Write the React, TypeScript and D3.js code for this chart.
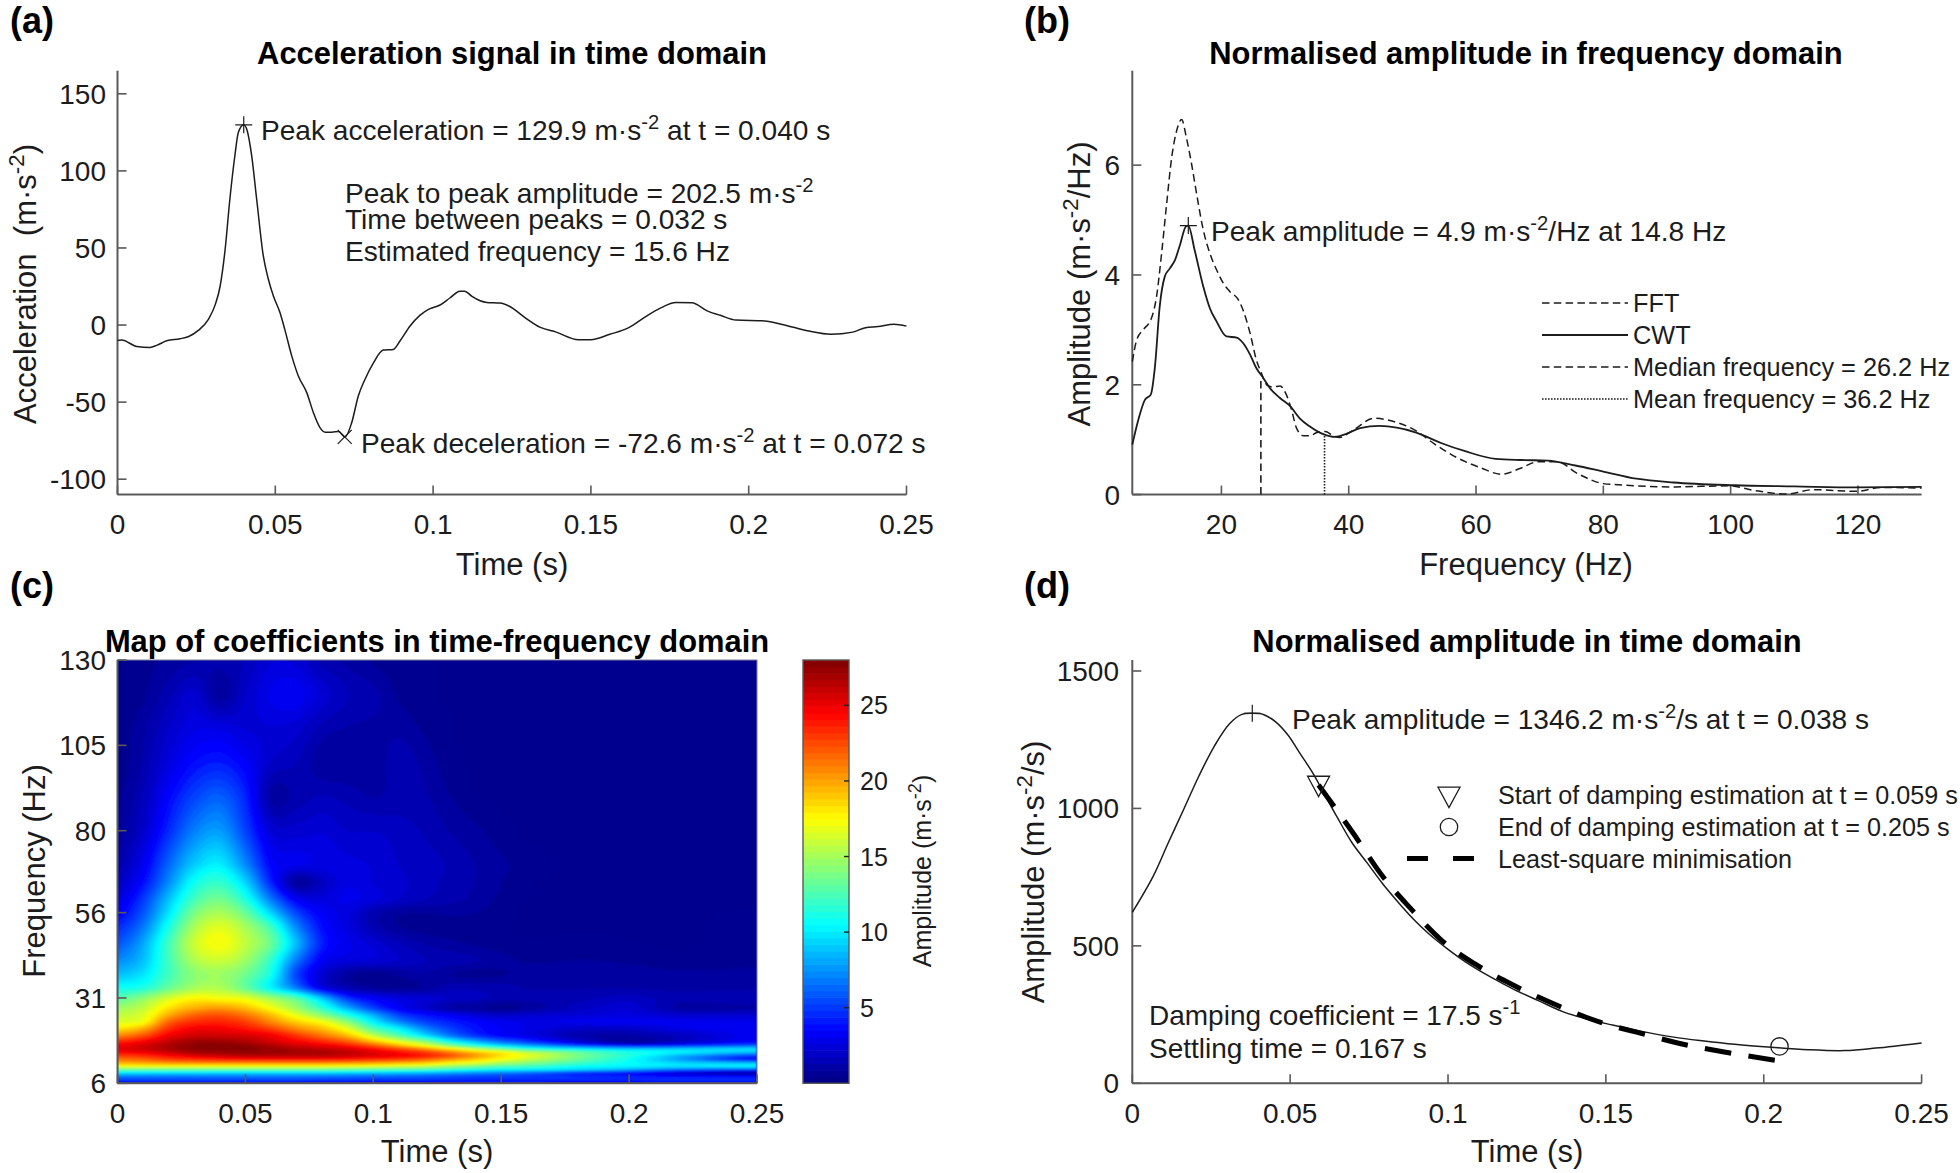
import React from "react";
import * as d3 from "d3";

// ---------- Panel (a) ----------
const accT = [0,.0013,.0061,.0103,.0124,.0156,.0198,.0224,.0256,.0288,.031,.0325,.0341,.0356,.0372,.0383,.04,.0411,.0425,.0441,.0462,.0478,.0494,.0515,.053,.0552,.0573,.06,.0621,.0642,.0658,.0679,.07,.0721,.0742,.0763,.0784,.0811,.0842,.0874,.0895,.0927,.0958,.099,.1022,.1054,.1085,.11,.1122,.1149,.117,.1212,.1243,.129,.134,.139,.146,.15,.156,.162,.167,.172,.177,.182,.187,.191,.196,.205,.211,.219,.226,.233,.237,.241,.246,.25];
const accV = [-10,-9.7,-13.9,-14.5,-13.2,-10.2,-8.9,-7.6,-3.5,3.7,13.4,25,49,81.6,110,125,129.9,126,110,81.6,44.8,29.7,18.8,8,-2.8,-20,-33,-44,-57,-66.7,-69.5,-69.5,-69,-72.6,-63.4,-46,-35.3,-24.5,-16.2,-15.8,-10.4,-.6,6.3,10.6,13,17.7,22,22,18.8,15.8,14.7,14.3,12,5,-1.5,-4.6,-9.5,-9.5,-6,-1.7,5,11,14.6,14.4,9,6.3,3.2,2.7,.2,-3.9,-6,-4.6,-1.7,-1,.5,-.7];
const timeTicks = [0,.05,.1,.15,.2,.25];
const timeTickLabels = ["0","0.05","0.1","0.15","0.2","0.25"];
const accTicks = [-100,-50,0,50,100,150];

// ---------- Panel (b) ----------
const cwtF = [6,6.94,8,8.9,9.56,10.3,11.1,11.9,12.7,13.5,14.4,14.8,15.8,17.15,18.2,19.25,20.8,22.4,23.4,24.5,25.5,26.6,27.6,29.2,30.8,32.3,33.9,36,37.8,39.7,41.8,44.8,50.6,54.5,58.3,63.1,67,71.3,75.6,80,85.2,91,100.6,110,119.8,130];
const cwtV = [.91,1.36,1.73,1.82,2.33,3.42,3.97,4.12,4.27,4.55,4.88,4.9,4.45,3.79,3.39,3.15,2.88,2.86,2.76,2.55,2.3,2.12,1.94,1.76,1.61,1.39,1.24,1.1,1.05,1.11,1.21,1.25,1.13,.94,.79,.65,.63,.62,.53,.42,.29,.22,.17,.15,.13,.14];
const fftF = [6,6.7,7.7,9,9.8,10.6,11.4,12.2,13,13.75,14.5,15.3,16.1,17.15,18.2,19.25,20.3,21.3,22.65,23.4,24.5,25.5,26.3,27.1,28.1,29.2,30.2,31,31.8,32.9,33.9,35,36.3,37.6,38.6,40,41.2,43.9,46.8,50.6,53.5,56.9,60.7,64,67,69.8,72.7,76,80,82.3,91,99.7,103.5,108.8,113,119.8,123.7,130];
const fftV = [2.42,2.82,3,3.21,3.6,4.39,5.3,6.15,6.64,6.83,6.5,6.03,5.48,4.82,4.39,4.09,3.85,3.7,3.55,3.36,2.94,2.45,2.21,2,1.96,1.98,1.82,1.55,1.21,1.07,1.07,1.13,1.15,1.07,1.04,1.12,1.21,1.39,1.34,1.16,.92,.68,.49,.37,.48,.6,.6,.38,.2,.18,.14,.16,.08,.01,.09,.06,.13,.12];
const freqTicks = [20,40,60,80,100,120];
const ampTicks = [0,2,4,6];
const medianF = 26.2, medianTop = 2.12, meanF = 36.2, meanTop = 1.1;

// ---------- Panel (c) ----------
const mapT = [0,.01,.02,.03,.04,.05,.06,.07,.08,.09,.10,.11,.12,.13,.14,.15,.16,.18,.20,.22,.25];
const mapF = [6,7,8,9,10,11,12,13,14,15,16,17,18,20,22,24,26,28,31,34,38,42,47,52,56,60,65,70,80,90,100,110,120,130];
const mapValues = [
/*6*/  [3,3,3,3,3,3,3,3,3,3,3,3,3,3,3,3,3,3,3,3,3],
/*7*/  [5.5,5.5,5.5,5.5,5.5,5.5,5.5,5.5,5.3,5.2,5,5,5,4.9,4.8,4.8,4.8,4.8,4.8,4.9,5],
/*8*/  [7,7,7,7,7,7,7,7,6.8,6.7,6.5,6.4,6.2,5.8,5.5,5.4,5.2,4.8,4.5,4,3.8],
/*9*/  [10,9.8,9.7,9.6,9.5,9.5,9.5,9.5,9.5,9.3,9,8.8,8.5,8,7.5,7,6.5,5,4,2.5,1.2],
/*10*/ [13.5,13.5,13.5,13.5,13.5,13.5,13.5,13.5,13.5,13.3,13,12.8,12.5,11.8,11,10.5,10.3,9.5,8.3,6.5,5.5],
/*11*/ [17.5,17.5,17.5,17.5,17.5,17.5,17.5,17.5,17.5,17.3,17,16.5,16,15,14,13,12.5,11,10.5,10,10.5],
/*12*/ [20,20.3,20.8,21,21,21,21,21,21,20.8,20.5,20,19.3,18,17,15.5,14.5,12.5,10.8,9.5,8.5],
/*13*/ [21.5,22,23,23.5,24,24.2,24.3,24.3,24.3,24,23.5,23,22,20.5,19,17.5,16,13.5,11,8,4],
/*14*/ [23,23.5,24.5,25.5,26,26.5,26.5,26.5,26.5,26,25.5,25,24,22.5,20.5,18.5,17,14,11.5,8.5,5],
/*15*/ [24.5,25,26,27,27.3,27.6,27.5,27.2,27,26.5,25.5,24.5,23.3,21.5,19.5,18,16,13.5,11.5,10.3,8.5],
/*16*/ [25.5,26,27,27.8,28,28,27.5,27,26.5,25.8,24.5,23,21,18.5,16,14,12,10.5,9.5,9.5,10],
/*17*/ [25,25.8,27,27.8,28,27.8,27,26,25.3,24.3,22.5,20,17.5,14.5,12,10,8.5,6,4.5,5,6.5],
/*18*/ [24,25,26.5,27.5,27.5,27,26,25,24,22.5,20,17.5,15,11.5,9,7,5.5,2.8,1.2,2.2,4],
/*20*/ [21,22.5,25,26,26,25.8,25,23.3,21.5,19.5,16,13,10,7,5,3.8,3,1.5,1.3,2,3.4],
/*22*/ [18.5,20,23.5,25,25,24.3,23,21,19.5,17,13,10.5,7.5,5.5,4.2,3.5,3,2.2,2.2,3,3.5],
/*24*/ [16.8,17.5,22,23.5,23.8,23,21,19,17.5,14.5,10.5,7.5,5.5,4.5,3.8,3.3,3,3.2,3.3,3.2,3.2],
/*26*/ [16,16.8,20,22,22.5,21.5,19.5,17,14.5,11.5,8.5,5.5,4.2,3.5,2.6,2.2,2.4,2.6,2.8,2.4,2.4],
/*28*/ [15,16,18.5,20,20.5,19.5,17.5,15,12,8.5,5.5,3.5,2.4,1.3,1,.7,1,2,2.5,1.2,1.3],
/*31*/ [13,14.5,16.5,17.8,17.5,17,15,13,9,5,3.5,2.8,2.5,2.2,2,1.5,1.5,1.6,2,1.5,1.8],
/*34*/ [11,11.5,13.5,15.2,15.5,13.5,10.5,7,3,1.6,1,.8,1,1.6,1.6,1.5,1.3,1.3,1.3,1.2,1.2],
/*38*/ [9,10,12.5,14.5,15,13.8,11.2,5.5,2.5,1.1,.7,1,1.3,.9,.7,.8,1.2,1.2,1.1,1,1],
/*42*/ [7.5,9,12.5,15.5,16.3,15,12,7,3.5,2.8,2.6,2.2,1.8,1.6,1.4,1.1,.8,.9,.8,.6,.8],
/*47*/ [6,8.3,12.5,16.3,17.6,16,13.6,8.8,4.5,3.2,2.5,1.8,1.3,1,.8,.6,.5,.6,.5,.4,.7],
/*52*/ [4.8,7,11.3,15.3,16.8,15.2,12.3,7.3,4,2.8,1.6,.9,.6,.7,.6,.5,.4,.4,.4,.4,.6],
/*56*/ [3.6,6,10,14,15.3,13.5,9.5,5.5,3.5,2.8,1.6,1,.9,1,.9,.6,.4,.4,.4,.4,.5],
/*60*/ [2.8,5.2,9,12.5,13.8,11.5,7,3.4,2.8,3.2,2.8,2.2,1.8,1.5,1.2,.8,.5,.4,.4,.4,.4],
/*65*/ [2,4,7.5,11,12,9.5,4.6,1,2,3,2.6,2.3,2,1.6,1.3,.9,.5,.4,.4,.4,.4],
/*70*/ [1.5,3.3,6.5,9.3,10.3,7.5,3.8,3.2,3,2.8,2.6,2.2,2,1.7,1.3,1,.6,.4,.4,.4,.4],
/*80*/ [1,2.3,4.8,7.2,8,5.5,2.6,2.4,2.6,2.2,2.2,2,1.7,1.3,1,.6,.4,.4,.4,.4,.4],
/*90*/ [.8,1.8,3.8,5.5,6.3,4.6,1.2,1.5,1.8,1.6,1.3,1.5,1.4,.9,.5,.4,.4,.4,.4,.4,.4],
/*100*/[.6,1.4,2.8,4,4.4,3.6,2.2,1.8,1,.9,1,1.6,1.2,.6,.4,.4,.4,.4,.4,.4,.4],
/*110*/[.6,1.2,2.2,3,3,2.6,2.6,2.4,1.6,1.3,1.2,1.2,.8,.5,.4,.4,.4,.4,.4,.4,.4],
/*120*/[.5,.8,1.6,2.4,1,2.2,3.2,3.4,2.5,1.8,1.5,.8,.6,.4,.4,.4,.4,.4,.4,.4,.4],
/*130*/[.5,.7,1,1.3,1.5,1.8,2.6,2.5,1.6,1.2,.8,.6,.5,.4,.4,.4,.4,.4,.4,.4,.4],
];
const mapFreqTicks = [6,31,56,80,105,130];
const barTicks = [5,10,15,20,25];

// ---------- Panel (d) ----------
const envT = [0,.0066,.0114,.0163,.0211,.026,.0308,.0347,.038,.0415,.0454,.0493,.0531,.057,.0609,.0648,.0696,.0745,.0793,.0842,.089,.0939,.0997,.1055,.1133,.121,.1288,.1365,.1443,.1521,.1618,.1715,.1811,.1908,.2025,.2141,.2258,.2355,.25];
const envV = [622,753,875,997,1118,1227,1308,1342,1346,1342,1315,1267,1200,1132,1051,970,875,800,726,659,598,544,490,442,388,341,300,260,233,212,188,168,154,142,131,122,119,128,147];
const fitT = [.059,.0696,.0793,.088,.0977,.1084,.12,.1327,.149,.16,.1734,.1889,.2035];
const fitV = [1085,916,753,638,523,435,361,293,219,185,145,111,84];
const envTicks = [0,500,1000,1500];

const FONT = "'Liberation Sans', Arial, sans-serif";
const INK = "#1c1c1c";
const AXIS = "#5a5a5a";

type Seg = string | { sup: string };
function Label({ x, y, segs, size = 28, anchor = "start", weight = 400, rotate = false, fill = INK, supSize = 0.72, supRaise = 0.4 }: any) {
  const raise = size * supRaise;
  const out: any[] = [];
  let pending = 0;
  segs.forEach((s: Seg, i: number) => {
    if (typeof s === "string") {
      out.push(<tspan key={i} dy={pending}>{s}</tspan>);
      pending = 0;
    } else {
      out.push(<tspan key={i} dy={-raise} fontSize={size * supSize}>{s.sup}</tspan>);
      pending = raise;
    }
  });
  return (
    <text x={rotate ? 0 : x} y={rotate ? 0 : y} transform={rotate ? `translate(${x},${y}) rotate(-90)` : undefined}
      fontFamily={FONT} fontSize={size} fontWeight={weight} textAnchor={anchor} fill={fill} style={{ whiteSpace: "pre" }}>
      {out}
    </text>
  );
}

function jet(v: number) {
  const x = v / 28;
  const c = (k: number) => Math.round(255 * Math.max(0, Math.min(1, 1.5 - Math.abs(4 * x - k))));
  return `rgb(${c(3)},${c(2)},${c(1)})`;
}

function Axes({ left, right, top, bottom, xs, ys, xLabels, xLabelY, yLabelX, tick = 9 }: any) {
  return (
    <g>
      <line x1={left} x2={left} y1={top} y2={bottom} stroke={AXIS} strokeWidth={2} />
      <line x1={left} x2={right} y1={bottom} y2={bottom} stroke={AXIS} strokeWidth={2} />
      {xs.map((x: number, i: number) => (
        <g key={i}>
          <line x1={x} x2={x} y1={bottom} y2={bottom - tick} stroke={AXIS} strokeWidth={1.6} />
          <text x={x} y={xLabelY} textAnchor="middle" fontFamily={FONT} fontSize={28} fill={INK}>{xLabels[i]}</text>
        </g>
      ))}
      {ys.map((t: any, i: number) => (
        <g key={i}>
          <line x1={left} x2={left + tick} y1={t.y} y2={t.y} stroke={AXIS} strokeWidth={1.6} />
          <text x={yLabelX} y={t.y + 10} textAnchor="end" fontFamily={FONT} fontSize={28} fill={INK}>{t.label}</text>
        </g>
      ))}
    </g>
  );
}

function Plus({ x, y, r = 8.5 }: any) {
  return <path d={`M${x - r},${y}H${x + r}M${x},${y - r}V${y + r}`} stroke={INK} strokeWidth={1.2} fill="none" />;
}
function Cross({ x, y, r = 7 }: any) {
  return <path d={`M${x - r},${y - r}L${x + r},${y + r}M${x - r},${y + r}L${x + r},${y - r}`} stroke={INK} strokeWidth={1.2} fill="none" />;
}
function Tri({ x, y, r = 11 }: any) {
  return <path d={`M${x - r},${y - r * 0.8}H${x + r}L${x},${y + r * 1.05}Z`} stroke={INK} strokeWidth={1.3} fill="none" />;
}

// Smooth resampling of the read grid so the filled bands follow round contours.
function resample(rows: number[][], k: number) {
  const nr = rows.length, nc = rows[0].length;
  const at = (r: number, c: number) => rows[Math.max(0, Math.min(nr - 1, r))][Math.max(0, Math.min(nc - 1, c))];
  const cr = (a: number, b: number, c: number, d: number, t: number) =>
    0.5 * (2 * b + (c - a) * t + (2 * a - 5 * b + 4 * c - d) * t * t + (3 * b - a - 3 * c + d) * t * t * t);
  const w = (nc - 1) * k + 1, h = (nr - 1) * k + 1;
  const out = new Array(w * h);
  for (let j = 0; j < h; j++) {
    const rf = j / k, r0 = Math.floor(rf), tr = rf - r0;
    for (let i = 0; i < w; i++) {
      const cf = i / k, c0 = Math.floor(cf), tc = cf - c0;
      const col = [-1, 0, 1, 2].map((dr) =>
        cr(at(r0 + dr, c0 - 1), at(r0 + dr, c0), at(r0 + dr, c0 + 1), at(r0 + dr, c0 + 2), tc));
      out[j * w + i] = cr(col[0], col[1], col[2], col[3], tr);
    }
  }
  return { w, h, out };
}

export default function App() {
  // panel geometry
  const L1 = 117.5, R1 = 906.5, L2 = 1132.3, R2 = 1921.6;
  const T1 = 70.7, B1 = 494.6, T2 = 660, B2 = 1083.3;
  const RC = 757, BL = 803, BR = 849;

  const xA = d3.scaleLinear().domain([0, .25]).range([L1, R1]);
  const yA = d3.scaleLinear().domain([-110, 165]).range([B1, T1]);
  const xB = d3.scaleLinear().domain([6, 130]).range([L2, R2]);
  const yB = d3.scaleLinear().domain([0, 7.72]).range([B1, T1]);
  const xC = d3.scaleLinear().domain([0, .25]).range([L1, RC]);
  const yC = d3.scaleLinear().domain([6, 130]).range([B2, T2]);
  const yBar = d3.scaleLinear().domain([0, 28]).range([B2, T2]);
  const xD = d3.scaleLinear().domain([0, .25]).range([L2, R2]);
  const yD = d3.scaleLinear().domain([0, 1540]).range([B2, T2]);

  const curve = d3.curveMonotoneX;
  const lineA = d3.line<number>().x((_, i) => xA(accT[i])).y((v) => yA(v)).curve(curve);
  const lineCwt = d3.line<number>().x((_, i) => xB(cwtF[i])).y((v) => yB(v)).curve(curve);
  const lineFft = d3.line<number>().x((_, i) => xB(fftF[i])).y((v) => yB(v)).curve(curve);
  const lineEnv = d3.line<number>().x((_, i) => xD(envT[i])).y((v) => yD(v)).curve(d3.curveCatmullRom);
  const lineFit = d3.line<number>().x((_, i) => xD(fitT[i])).y((v) => yD(v)).curve(curve);

  // heat map
  const K = 4;
  const grid = resample(mapValues, K);
  const thresholds = d3.range(0.45, 28, 0.44);
  const contours = d3.contours().size([grid.w, grid.h]).smooth(true).thresholds(thresholds)(grid.out);
  const idxT = d3.scaleLinear().domain(mapT.map((_, i) => i * K + 0.5)).range(mapT).clamp(true);
  const idxF = d3.scaleLinear().domain(mapF.map((_, i) => i * K + 0.5)).range(mapF).clamp(true);
  const path = d3.geoPath(d3.geoTransform({
    point(x: number, y: number) {
      (this as any).stream.point(xC(idxT(x)), yC(idxF(y)));
    },
  }));
  const barLevels = d3.range(0, 28, 0.4375);

  const W = 1960, H = 1173;
  return (
    <svg width={W} height={H} viewBox={`0 0 ${W} ${H}`}
      style={{ position: "absolute", left: 0, top: 0, background: "#fff", display: "block" }}>
      <defs>
        <clipPath id="mapClip"><rect x={L1} y={T2} width={RC - L1} height={B2 - T2} /></clipPath>
        <filter id="soft" filterUnits="userSpaceOnUse" x={L1 - 10} y={T2 - 10} width={RC - L1 + 20} height={B2 - T2 + 20}>
          <feGaussianBlur stdDeviation={1.1} />
        </filter>
      </defs>

      {/* panel letters */}
      <Label x={10} y={32.6} segs={["(a)"]} size={36} weight={700} fill="#000" />
      <Label x={1024} y={32.6} segs={["(b)"]} size={36} weight={700} fill="#000" />
      <Label x={10} y={598} segs={["(c)"]} size={36} weight={700} fill="#000" />
      <Label x={1024} y={598} segs={["(d)"]} size={36} weight={700} fill="#000" />

      {/* (a) */}
      <Label x={512} y={64} segs={["Acceleration signal in time domain"]} size={30.9} weight={700} anchor="middle" fill="#000" />
      <Axes left={L1} right={R1} top={T1} bottom={B1} xs={timeTicks.map((t) => xA(t))} xLabels={timeTickLabels} xLabelY={534}
        ys={accTicks.map((v) => ({ y: yA(v), label: String(v) }))} yLabelX={106} />
      <path d={lineA(accV) as string} fill="none" stroke={INK} strokeWidth={1.5} />
      <Plus x={xA(.04)} y={yA(129.9)} />
      <Cross x={xA(.072)} y={yA(-72.6)} />
      <Label x={261} y={140} size={28.1} segs={["Peak acceleration = 129.9 m·s", { sup: "-2" }, " at t = 0.040 s"]} />
      <Label x={345} y={203} size={28.1} segs={["Peak to peak amplitude = 202.5 m·s", { sup: "-2" }]} />
      <Label x={345} y={229} size={28.1} segs={["Time between peaks = 0.032 s"]} />
      <Label x={345} y={261} size={28.1} segs={["Estimated frequency = 15.6 Hz"]} />
      <Label x={361} y={453} size={28.1} segs={["Peak deceleration = -72.6 m·s", { sup: "-2" }, " at t = 0.072 s"]} />
      <Label x={512} y={575} segs={["Time (s)"]} size={31} anchor="middle" />
      <Label x={36} y={284} segs={["Acceleration  (m·s", { sup: "-2" }, ")"]} size={31} anchor="middle" rotate />

      {/* (b) */}
      <Label x={1526} y={64} segs={["Normalised amplitude in frequency domain"]} size={30.9} weight={700} anchor="middle" fill="#000" />
      <Axes left={L2} right={R2} top={T1} bottom={B1} xs={freqTicks.map((t) => xB(t))} xLabels={freqTicks.map(String)} xLabelY={534}
        ys={ampTicks.map((v) => ({ y: yB(v), label: String(v) }))} yLabelX={1120} />
      <path d={lineFft(fftV) as string} fill="none" stroke={INK} strokeWidth={1.5} strokeDasharray="7.5,4.3" />
      <path d={lineCwt(cwtV) as string} fill="none" stroke={INK} strokeWidth={1.8} />
      <line x1={xB(medianF)} x2={xB(medianF)} y1={yB(0)} y2={yB(medianTop)} stroke={INK} strokeWidth={1.6} strokeDasharray="7.5,4.3" />
      <line x1={xB(meanF)} x2={xB(meanF)} y1={yB(0)} y2={yB(meanTop)} stroke={INK} strokeWidth={1.6} strokeDasharray="1.6,1.4" />
      <Plus x={xB(14.8)} y={yB(4.9)} />
      <Label x={1211} y={241} size={28.1} segs={["Peak amplitude = 4.9 m·s", { sup: "-2" }, "/Hz at 14.8 Hz"]} />
      <g>
        <line x1={1542} x2={1628} y1={303} y2={303} stroke={INK} strokeWidth={1.5} strokeDasharray="7.5,4.3" />
        <line x1={1542} x2={1628} y1={335} y2={335} stroke={INK} strokeWidth={1.8} />
        <line x1={1542} x2={1628} y1={367} y2={367} stroke={INK} strokeWidth={1.5} strokeDasharray="7.5,4.3" />
        <line x1={1542} x2={1628} y1={399} y2={399} stroke={INK} strokeWidth={1.6} strokeDasharray="1.6,1.4" />
      </g>
      <Label x={1633} y={312} segs={["FFT"]} size={25.3} />
      <Label x={1633} y={344} segs={["CWT"]} size={25.3} />
      <Label x={1633} y={376} segs={["Median frequency = 26.2 Hz"]} size={25.3} />
      <Label x={1633} y={408} segs={["Mean frequency = 36.2 Hz"]} size={25.3} />
      <Label x={1526} y={575} segs={["Frequency (Hz)"]} size={31} anchor="middle" />
      <Label x={1090} y={284} segs={["Amplitude (m·s", { sup: "-2" }, "/Hz)"]} size={31} anchor="middle" rotate />

      {/* (c) */}
      <Label x={437} y={652} segs={["Map of coefficients in time-frequency domain"]} size={30.9} weight={700} anchor="middle" fill="#000" />
      <rect x={L1} y={T2} width={RC - L1} height={B2 - T2} fill={jet(0.4)} />
      <g clipPath="url(#mapClip)">
        <g filter="url(#soft)">
          {contours.map((c: any, i: number) => (
            <path key={i} d={path(c) as string} fill={jet(c.value)} />
          ))}
        </g>
      </g>
      <rect x={L1} y={T2} width={RC - L1} height={B2 - T2} fill="none" stroke="#7c7c9c" strokeWidth={1} />
      <Axes left={L1} right={RC} top={T2} bottom={B2} xs={timeTicks.map((t) => xC(t))} xLabels={timeTickLabels} xLabelY={1123}
        ys={mapFreqTicks.map((v) => ({ y: yC(v), label: String(v) }))} yLabelX={106} />
      <Label x={437} y={1162} segs={["Time (s)"]} size={31} anchor="middle" />
      <Label x={45} y={871} segs={["Frequency (Hz)"]} size={31} anchor="middle" rotate />

      {/* colour bar */}
      {barLevels.map((v, i) => (
        <rect key={i} x={BL} width={BR - BL} y={yBar(v + 0.4375)} height={yBar(v) - yBar(v + 0.4375) + 0.6} fill={jet(v + 0.22)} />
      ))}
      <rect x={BL} y={T2} width={BR - BL} height={B2 - T2} fill="none" stroke={AXIS} strokeWidth={1.4} />
      {barTicks.map((v) => (
        <g key={v}>
          <line x1={BR - 5} x2={BR} y1={yBar(v)} y2={yBar(v)} stroke="#222" strokeWidth={1.4} />
          <text x={860} y={yBar(v) + 9} fontFamily={FONT} fontSize={25} fill={INK}>{v}</text>
        </g>
      ))}
      <Label x={930.5} y={871} segs={["Amplitude (m·s", { sup: "-2" }, ")"]} size={25} anchor="middle" rotate />

      {/* (d) */}
      <Label x={1527} y={652} segs={["Normalised amplitude in time domain"]} size={30.9} weight={700} anchor="middle" fill="#000" />
      <Axes left={L2} right={R2} top={T2} bottom={B2} xs={timeTicks.map((t) => xD(t))} xLabels={timeTickLabels} xLabelY={1123}
        ys={envTicks.map((v) => ({ y: yD(v), label: String(v) }))} yLabelX={1119} />
      <path d={lineEnv(envV) as string} fill="none" stroke={INK} strokeWidth={1.5} />
      <path d={lineFit(fitV) as string} fill="none" stroke="#000" strokeWidth={5} pathLength={542} strokeDasharray="26,17" />
      <Plus x={xD(.038)} y={yD(1346.2)} />
      <Tri x={xD(.059)} y={yD(1085)} />
      <circle cx={xD(.205)} cy={yD(134)} r={8.7} fill="none" stroke={INK} strokeWidth={1.3} />
      <Label x={1292} y={729} size={28.1} segs={["Peak amplitude = 1346.2 m·s", { sup: "-2" }, "/s at t = 0.038 s"]} />
      <Tri x={1449} y={796} />
      <circle cx={1449} cy={827} r={8.7} fill="none" stroke={INK} strokeWidth={1.3} />
      <line x1={1407} x2={1475} y1={858.5} y2={858.5} stroke="#000" strokeWidth={5} strokeDasharray="21,25" />
      <Label x={1498} y={804} segs={["Start of damping estimation at t = 0.059 s"]} size={25.2} />
      <Label x={1498} y={836} segs={["End of damping estimation at t = 0.205 s"]} size={25.2} />
      <Label x={1498} y={868} segs={["Least-square minimisation"]} size={25.2} />
      <Label x={1149} y={1025} segs={["Damping coefficient = 17.5 s", { sup: "-1" }]} size={28} />
      <Label x={1149} y={1058} segs={["Settling time = 0.167 s"]} size={28} />
      <Label x={1527} y={1162} segs={["Time (s)"]} size={31} anchor="middle" />
      <Label x={1044} y={872} segs={["Amplitude (m·s", { sup: "-2" }, "/s)"]} size={31} anchor="middle" rotate />
    </svg>
  );
}
